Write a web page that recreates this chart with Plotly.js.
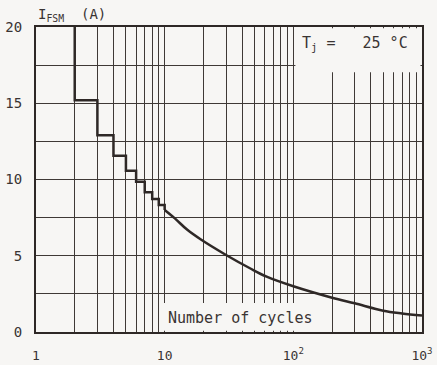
<!DOCTYPE html>
<html>
<head>
<meta charset="utf-8">
<script src="https://cdn.plot.ly/plotly-3.0.1.min.js"></script>
<style>html,body{margin:0;padding:0;background:#f7f6f4;}#chart{width:437px;height:365px;}</style>
</head>
<body>
<div id="chart"></div>
<script>
// Step part (integer number of cycles)
var stepCycles = [2, 3, 4, 5, 6, 7, 8, 9, 10, 10];
var stepCurrent = [20, 15.2, 12.9, 11.55, 10.58, 9.86, 9.16, 8.72, 8.33, 8.0];
// Continuous part
var curveCycles = [10, 12, 15, 19, 30, 46, 62, 100, 200, 300, 500, 700, 1000];
var curveCurrent = [8.0, 7.45, 6.7, 6.08, 5.05, 4.18, 3.63, 3.0, 2.25, 1.88, 1.4, 1.22, 1.08];
// Axis ticks
var xTickVals = [1, 10, 100, 1000];
var xTickText = ['1', '10', '10<sup>2</sup>', '10<sup>3</sup>'];
var xMinorVals = [2,3,4,5,6,7,8,9,20,30,40,50,60,70,80,90,200,300,400,500,600,700,800,900];
var yTickVals = [0, 5, 10, 15, 20];
var yTickText = ['0', '5', '10', '15', '20'];
var yMinorVals = [2.5, 7.5, 12.5, 17.5];

var bg = '#f7f6f4';
var ink = '#2e2826';
var gridc = '#3f3936';
var font = 'DejaVu Sans Mono, monospace';

var traces = [
  {x: stepCycles, y: stepCurrent, mode: 'lines', line: {shape: 'vh', color: ink, width: 2.5}, hoverinfo: 'skip'},
  {x: curveCycles, y: curveCurrent, mode: 'lines', line: {shape: 'spline', color: ink, width: 2.5}, hoverinfo: 'skip'}
];

var layout = {
  width: 437, height: 365,
  margin: {l: 36, r: 15, t: 27, b: 33},
  paper_bgcolor: bg, plot_bgcolor: bg,
  showlegend: false,
  font: {family: font, color: '#3a3433', size: 13},
  xaxis: {
    type: 'log', range: [0, 3], tickmode: 'array', tickvals: xTickVals, ticktext: xTickText,
    showgrid: true, gridcolor: gridc, gridwidth: 1,
    minor: {tickmode: 'array', tickvals: xMinorVals, showgrid: true, gridcolor: gridc, gridwidth: 1, ticks: ''},
    showline: true, mirror: true, linecolor: ink, linewidth: 2,
    ticks: '', ticklabelstandoff: 10, zeroline: false, fixedrange: true,
    tickfont: {family: font, size: 13, color: '#3a3433'}
  },
  yaxis: {
    range: [0, 20], tickmode: 'array', tickvals: yTickVals, ticktext: yTickText,
    showgrid: true, gridcolor: gridc, gridwidth: 1,
    minor: {tickmode: 'array', tickvals: yMinorVals, showgrid: true, gridcolor: gridc, gridwidth: 1, ticks: ''},
    showline: true, mirror: true, linecolor: ink, linewidth: 2,
    ticks: '', ticklabelstandoff: 9, zeroline: false, fixedrange: true,
    tickfont: {family: font, size: 14, color: '#3a3433'}
  },
  shapes: [
    {type: 'rect', xref: 'paper', yref: 'paper', x0: 0.672, x1: 0.996, y0: 0.852, y1: 0.996, fillcolor: bg, line: {width: 0}, layer: 'above'},
    {type: 'rect', xref: 'paper', yref: 'paper', x0: 0.326, x1: 0.762, y0: 0.004, y1: 0.095, fillcolor: bg, line: {width: 0}, layer: 'above'}
  ],
  annotations: [
    {xref: 'paper', yref: 'paper', x: 0.0, y: 1.0, xanchor: 'left', yanchor: 'bottom', yshift: 1, showarrow: false,
     text: 'I<sub>FSM</sub>\u00a0\u00a0(A)', font: {family: font, size: 14, color: '#3a3433'}},
    {xref: 'paper', yref: 'paper', x: 0.683, y: 0.985, xanchor: 'left', yanchor: 'top', showarrow: false,
     text: 'T<sub>j</sub>\u00a0=\u00a0\u00a0\u00a025\u00a0\u00b0C', font: {family: font, size: 15, color: '#3a3433'}},
    {xref: 'paper', yref: 'paper', x: 0.338, y: 0.01, xanchor: 'left', yanchor: 'bottom', showarrow: false,
     text: 'Number of cycles', font: {family: font, size: 15, color: '#3a3433'}}
  ]
};

Plotly.newPlot('chart', traces, layout, {displayModeBar: false, staticPlot: true});
</script>
</body>
</html>
